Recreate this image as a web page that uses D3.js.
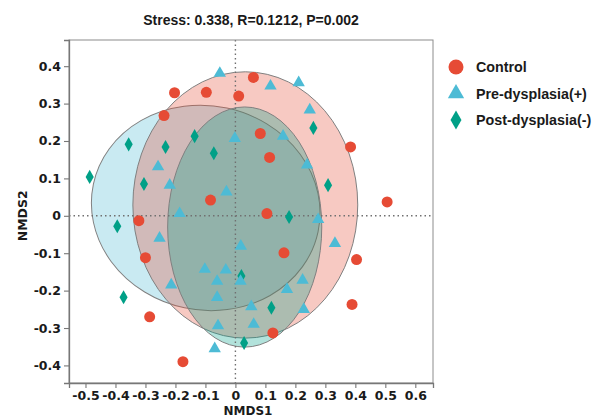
<!DOCTYPE html>
<html>
<head>
<meta charset="utf-8">
<style>
  body { margin: 0; background: #fff; }
  svg { display: block; }
</style>
</head>
<body>
<script src="https://d3js.org/d3.v7.min.js"></script>
<script>
  // NMDS1 / NMDS2 scores
  const controlX = [-0.203, -0.097, 0.011, 0.060, -0.238, 0.083, 0.114, 0.384, -0.083, 0.506,
    0.105, -0.322, -0.300, 0.162, 0.404, -0.286, 0.389, 0.125, -0.175]
  const controlY = [0.329, 0.330, 0.320, 0.370, 0.268, 0.220, 0.156, 0.184, 0.042, 0.037,
    0.006, -0.013, -0.112, -0.099, -0.117, -0.270, -0.237, -0.313, -0.390]

  const preX = [-0.052, 0.117, 0.211, 0.248, 0.159, -0.002, 0.239, -0.258, -0.219, -0.030,
    -0.186, 0.276, -0.253, 0.018, 0.332, -0.102, -0.032, -0.061, 0.017, -0.214,
    0.224, 0.172, -0.061, 0.053, 0.228, -0.058, 0.061, -0.069]
  const preY = [0.381, 0.347, 0.356, 0.283, 0.213, 0.207, 0.136, 0.131, 0.082, 0.064,
    0.006, -0.010, -0.060, -0.081, -0.074, -0.143, -0.145, -0.175, -0.175, -0.185,
    -0.172, -0.197, -0.218, -0.243, -0.250, -0.294, -0.290, -0.355]

  const postX = [-0.136, -0.356, -0.233, -0.072, -0.486, -0.305, 0.260, 0.309, 0.179, -0.394,
    0.020, -0.373, 0.120, 0.029]
  const postY = [0.213, 0.191, 0.184, 0.167, 0.104, 0.085, 0.235, 0.082, -0.003, -0.028,
    -0.161, -0.218, -0.246, -0.340]

  // confidence ellipses: centre, semi-axes (data units), tilt in degrees
  const groups = ['Control', 'Pre-dysplasia(+)', 'Post-dysplasia(-)']
  const ellCenter = [[0.033, 0.029], [-0.099, 0.021], [0.031, -0.030]]
  const ellRadius = [[0.375, 0.356], [0.383, 0.273], [0.257, 0.321]]
  const ellAngle = [0, 12, 0]

  const xTicks = [-0.5, -0.4, -0.3, -0.2, -0.1, 0, 0.1, 0.2, 0.3, 0.4, 0.5, 0.6]
  const yTicks = [-0.4, -0.3, -0.2, -0.1, 0, 0.1, 0.2, 0.3, 0.4]

  const colors = ['#E64B35', '#4DBBD5', '#00A087']
  const shapes = [d3.symbolCircle, d3.symbolTriangle, d3.symbolDiamond]
  const sizes = [95, 66, 57]
  const legendSizes = [177, 115, 104]

  const width = 597
  const height = 419
  const margins = { top: 40, right: 164, bottom: 36, left: 69 }
  const w = width - margins.left - margins.right
  const h = height - margins.top - margins.bottom

  const svg = d3.select('body').append('svg')
    .attr('width', width)
    .attr('height', height)

  const g = svg.append('g')
    .attr('transform', `translate(${margins.left}, ${margins.top})`)

  const x = d3.scaleLinear().domain([-0.555, 0.659]).range([0, w])
  const y = d3.scaleLinear().domain([-0.447, 0.47]).range([h, 0])

  const tickFont = '"DejaVu Sans", sans-serif'
  const labelFont = '"Liberation Sans", Arial, sans-serif'

  // ellipses (drawn blue, red, green so the overlaps tint like the original)
  const order = [1, 0, 2]
  order.forEach(i => {
    const [cx, cy] = ellCenter[i]
    const rx = x(cx + ellRadius[i][0]) - x(cx)
    const ry = y(cy) - y(cy + ellRadius[i][1])
    g.append('ellipse')
      .attr('cx', x(cx))
      .attr('cy', y(cy))
      .attr('rx', rx)
      .attr('ry', ry)
      .attr('transform', `rotate(${ellAngle[i]}, ${x(cx)}, ${y(cy)})`)
      .attr('fill', colors[i])
      .attr('fill-opacity', 0.3)
      .attr('stroke', '#808080')
      .attr('stroke-width', 1)
  })

  // dotted zero lines
  g.append('line')
    .attr('x1', x(0)).attr('x2', x(0))
    .attr('y1', 0).attr('y2', h)
    .attr('stroke', '#707070')
    .attr('stroke-width', 1.4)
    .attr('stroke-dasharray', '1.5,3')
  g.append('line')
    .attr('x1', 0).attr('x2', w)
    .attr('y1', y(0)).attr('y2', y(0))
    .attr('stroke', '#707070')
    .attr('stroke-width', 1.4)
    .attr('stroke-dasharray', '1.5,3')

  // points
  const series = [
    { xs: controlX, ys: controlY },
    { xs: preX, ys: preY },
    { xs: postX, ys: postY }
  ]
  const drawOrder = [0, 2, 1]
  drawOrder.forEach(i => {
    const pts = series[i].xs.map((v, j) => [v, series[i].ys[j]])
    g.append('g').selectAll('path')
      .data(pts)
      .enter().append('path')
      .attr('transform', d => `translate(${x(d[0])}, ${y(d[1])})`)
      .attr('d', d3.symbol().type(shapes[i]).size(sizes[i]))
      .attr('fill', colors[i])
  })

  // frame
  g.append('rect')
    .attr('width', w).attr('height', h)
    .attr('fill', 'none')
    .attr('stroke', '#8c8c8c')
    .attr('stroke-width', 1)

  // axes
  const xAxis = g.append('g')
    .attr('transform', `translate(0, ${h})`)
    .call(d3.axisBottom(x).tickValues(xTicks).tickSize(5).tickPadding(3)
      .tickFormat(d => d === 0 ? '0' : d3.format('.1f')(d)))
  const yAxis = g.append('g')
    .call(d3.axisLeft(y).tickValues(yTicks).tickSize(5).tickPadding(3)
      .tickFormat(d => d === 0 ? '0' : d3.format('.1f')(d)))

  ;[xAxis, yAxis].forEach(a => {
    a.select('.domain').attr('stroke', '#777').attr('stroke-width', 1.3)
    a.selectAll('.tick line').attr('stroke', '#777').attr('stroke-width', 1.1)
    a.selectAll('.tick text')
      .attr('fill', '#1a1a1a')
      .attr('font-family', tickFont)
      .attr('font-weight', 'bold')
      .attr('font-size', '12.5px')
      .text(function () { return this.textContent.replace('−', '-') })
  })

  // titles
  svg.append('text')
    .attr('x', margins.left + w / 2)
    .attr('y', 25)
    .attr('text-anchor', 'middle')
    .attr('font-family', labelFont)
    .attr('font-weight', 'bold')
    .attr('font-size', '14px')
    .attr('fill', '#1a1a1a')
    .text('Stress: 0.338, R=0.1212, P=0.002')

  svg.append('text')
    .attr('x', margins.left + w / 2 - 3)
    .attr('y', 415)
    .attr('text-anchor', 'middle')
    .attr('font-family', tickFont)
    .attr('font-weight', 'bold')
    .attr('font-size', '12px')
    .attr('fill', '#1a1a1a')
    .text('NMDS1')

  svg.append('text')
    .attr('transform', `translate(27, ${margins.top + y(0)}) rotate(-90)`)
    .attr('text-anchor', 'middle')
    .attr('font-family', tickFont)
    .attr('font-weight', 'bold')
    .attr('font-size', '12.5px')
    .attr('fill', '#1a1a1a')
    .text('NMDS2')

  // legend
  const legend = svg.append('g').attr('transform', 'translate(456, 67)')
  groups.forEach((name, i) => {
    const row = legend.append('g').attr('transform', `translate(0, ${i * 26.5})`)
    row.append('path')
      .attr('d', d3.symbol().type(shapes[i]).size(legendSizes[i]))
      .attr('fill', colors[i])
    row.append('text')
      .attr('x', 20)
      .attr('dy', '0.36em')
      .attr('font-family', labelFont)
      .attr('font-weight', 'bold')
      .attr('font-size', '14.3px')
      .attr('fill', '#1a1a1a')
      .text(name)
  })
</script>
</body>
</html>
